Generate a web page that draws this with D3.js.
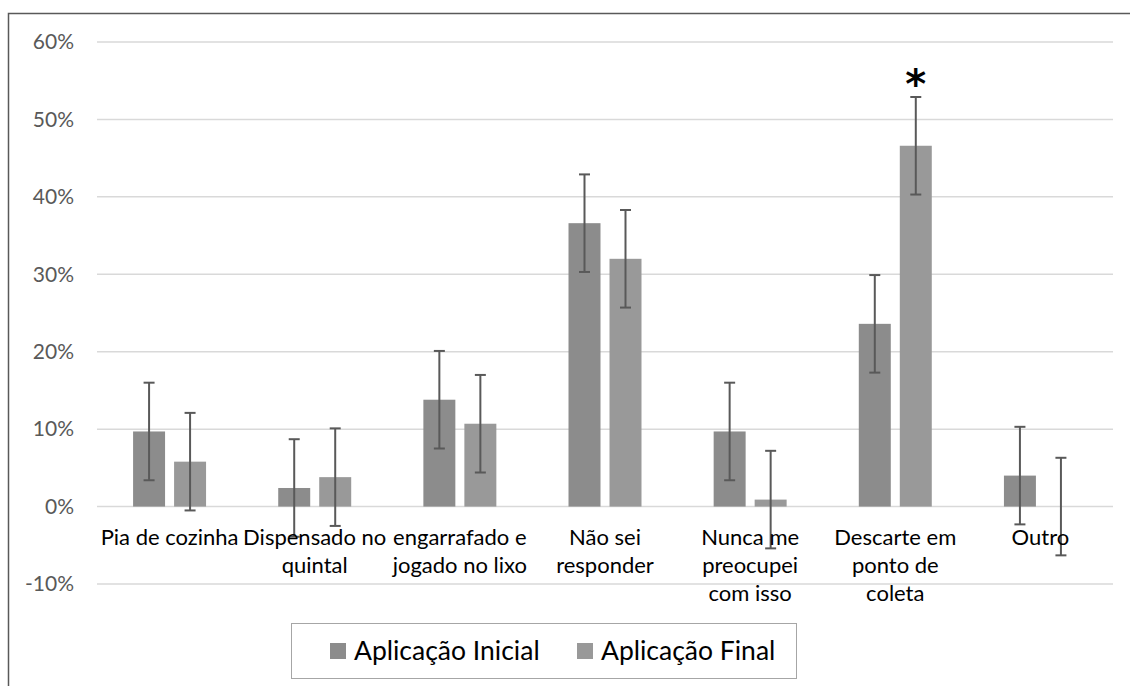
<!DOCTYPE html>
<html><head><meta charset="utf-8">
<script src="https://cdn.jsdelivr.net/npm/d3@7"></script>
<style>body{margin:0;background:#fff}svg{display:block}</style>
</head><body>
<svg id="c" width="1130" height="686"></svg>
<script>
const categories = ["Pia de cozinha", "Dispensado no|quintal", "engarrafado e|jogado no lixo", "Não sei|responder", "Nunca me|preocupei|com isso", "Descarte em|ponto de|coleta", "Outro"];
const seriesNames = ["Aplicação Inicial", "Aplicação Final"];
const inicial = [0.097, 0.024, 0.138, 0.366, 0.097, 0.236, 0.040];
const final = [0.058, 0.038, 0.107, 0.320, 0.009, 0.466, 0.000];
const errInicial = [0.063, 0.063, 0.063, 0.063, 0.063, 0.063, 0.063];
const errFinal = [0.063, 0.063, 0.063, 0.063, 0.063, 0.063, 0.063];
const yTicks = [-0.1, 0, 0.1, 0.2, 0.3, 0.4, 0.5, 0.6];
const significant = ["Descarte em|ponto de|coleta"];
const colors = ["#8c8c8c", "#999999"];

const svg = d3.select("#c");
const font = "Lato, 'Open Sans', sans-serif";

svg.append("rect").attr("x", 8.5).attr("y", 13.5).attr("width", 1200).attr("height", 800)
  .attr("fill", "none").attr("stroke", "#595959").attr("stroke-width", 1.5);

const y = d3.scaleLinear().domain([-0.1, 0.6]).range([584, 42]);
const x0 = d3.scaleBand().domain(categories).range([97, 1113]);
const x1 = d3.scaleBand().domain(seriesNames).range([0, x0.bandwidth()]).paddingInner(0.22).paddingOuter(0.88);

// grid
svg.append("g").selectAll("line").data(yTicks).join("line")
  .attr("x1", 97).attr("x2", 1113).attr("y1", d => y(d)).attr("y2", d => y(d))
  .attr("stroke", "#d9d9d9").attr("stroke-width", 1.5);

// y axis labels
const pct = d3.format(".0%");
const yAxis = d3.axisLeft(y).tickValues(yTicks).tickFormat(d => pct(d).replace("−", "-")).tickSize(0).tickPadding(0);
const ga = svg.append("g").attr("transform", "translate(74,0)").call(yAxis);
ga.select(".domain").remove();
ga.selectAll("text").attr("font-family", font).attr("font-size", 21).attr("fill", "#595959");

const data = categories.map((c, i) => ({cat: c, vals: [
  {s: seriesNames[0], v: inicial[i], e: errInicial[i], col: colors[0]},
  {s: seriesNames[1], v: final[i], e: errFinal[i], col: colors[1]}
]}));

const groups = svg.append("g").selectAll("g").data(data).join("g")
  .attr("transform", d => `translate(${x0(d.cat)},0)`);

groups.selectAll("rect").data(d => d.vals).join("rect")
  .attr("x", d => x1(d.s)).attr("width", x1.bandwidth())
  .attr("y", d => y(Math.max(0, d.v))).attr("height", d => Math.abs(y(d.v) - y(0)))
  .attr("fill", d => d.col);

// category labels
const lab = svg.append("g").selectAll("text").data(categories).join("text")
  .attr("x", d => x0(d) + x0.bandwidth() / 2).attr("y", 545)
  .attr("text-anchor", "middle").attr("font-family", font).attr("font-size", 22).attr("fill", "#000");
lab.selectAll("tspan").data(d => d.split("|")).join("tspan")
  .attr("x", function() { return d3.select(this.parentNode).attr("x"); })
  .attr("dy", (d, i) => i === 0 ? 0 : 28).text(d => d);

// error bars
const eb = groups.selectAll("g.eb").data(d => d.vals).join("g").attr("class", "eb")
  .attr("transform", d => `translate(${x1(d.s) + x1.bandwidth() / 2},0)`)
  .attr("stroke", "#595959").attr("stroke-width", 2);
eb.append("line").attr("x1", 0).attr("x2", 0).attr("y1", d => y(d.v - d.e)).attr("y2", d => y(d.v + d.e));
eb.append("line").attr("x1", -5.5).attr("x2", 5.5).attr("y1", d => y(d.v - d.e)).attr("y2", d => y(d.v - d.e));
eb.append("line").attr("x1", -5.5).attr("x2", 5.5).attr("y1", d => y(d.v + d.e)).attr("y2", d => y(d.v + d.e));

// significance asterisk
groups.filter(d => significant.includes(d.cat)).append("text")
  .attr("x", x1(seriesNames[1]) + x1.bandwidth() / 2)
  .attr("y", d => y(d.vals[1].v + d.vals[1].e) - 3)
  .attr("text-anchor", "middle").attr("font-family", "'DejaVu Sans', sans-serif")
  .attr("font-weight", "bold").attr("font-size", 40).attr("dy", "0.55em").attr("transform", "translate(0,-18)")
  .text("*");

// legend
const lg = svg.append("g");
lg.append("rect").attr("x", 291.5).attr("y", 623.5).attr("width", 505).attr("height", 55)
  .attr("fill", "#fff").attr("stroke", "#a6a6a6").attr("stroke-width", 1);
const legX = [330, 577];
seriesNames.forEach((s, i) => {
  lg.append("rect").attr("x", legX[i]).attr("y", 643).attr("width", 16).attr("height", 16).attr("fill", colors[i]);
  lg.append("text").attr("x", legX[i] + 24).attr("y", 660).attr("font-family", font).attr("font-size", 26.5)
    .attr("fill", "#000").text(s);
});
</script>
</body></html>
